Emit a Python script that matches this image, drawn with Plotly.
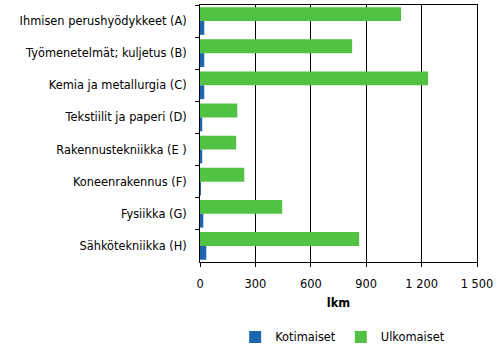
import plotly.graph_objects as go

categories = [
    "Ihmisen perushyödykkeet (A)",
    "Työmenetelmät; kuljetus (B)",
    "Kemia ja metallurgia (C)",
    "Tekstiilit ja paperi (D)",
    "Rakennustekniikka (E )",
    "Koneenrakennus (F)",
    "Fysiikka (G)",
    "Sähkötekniikka (H)",
]
kotimaiset = [23, 23, 23, 12, 12, 1, 18, 34]
ulkomaiset = [1089, 824, 1235, 202, 196, 240, 445, 862]
x_ticks = [0, 300, 600, 900, 1200, 1500]
x_ticklabels = ["0", "300", "600", "900", "1 200", "1 500"]

font = dict(family="DejaVu Sans, Verdana, sans-serif", size=11.4, color="#000000")

fig = go.Figure()
fig.add_trace(go.Bar(y=categories, x=ulkomaiset, name="Ulkomaiset", orientation="h",
                     marker=dict(color="#52c244", line=dict(width=0))))
fig.add_trace(go.Bar(y=categories, x=kotimaiset, name="Kotimaiset", orientation="h",
                     marker=dict(color="#1f66b0", line=dict(width=0))))

fig.update_layout(
    width=497, height=357,
    margin=dict(l=200, r=20, t=5, b=92),
    paper_bgcolor="white", plot_bgcolor="white",
    font=font,
    barmode="group", bargap=0.14, bargroupgap=0,
    showlegend=True,
    legend=dict(orientation="h", x=0.515, xanchor="center", y=-0.235, yanchor="top",
                traceorder="reversed", font=font, itemwidth=30, tracegroupgap=0),
)
fig.update_xaxes(
    range=[0, 1500], tickvals=x_ticks, ticktext=x_ticklabels,
    showgrid=True, gridcolor="#000000", gridwidth=1,
    showline=True, linecolor="#000000", linewidth=1, mirror=True,
    ticks="outside", ticklen=4, tickcolor="#000000",
    zeroline=False, automargin=False, ticklabelstandoff=7,
    title=dict(text="<b>lkm</b>", font=font, standoff=9),
)
fig.update_yaxes(
    categoryorder="array", categoryarray=categories, autorange="reversed",
    showline=True, linecolor="#000000", linewidth=1, mirror=True,
    ticks="outside", ticklen=4, tickcolor="#000000", tickson="boundaries",
    showgrid=False, ticklabelstandoff=10, automargin=False,
)

fig.write_html("out.html", config={"displayModeBar": False},
               post_script="document.body.style.margin='0';")
